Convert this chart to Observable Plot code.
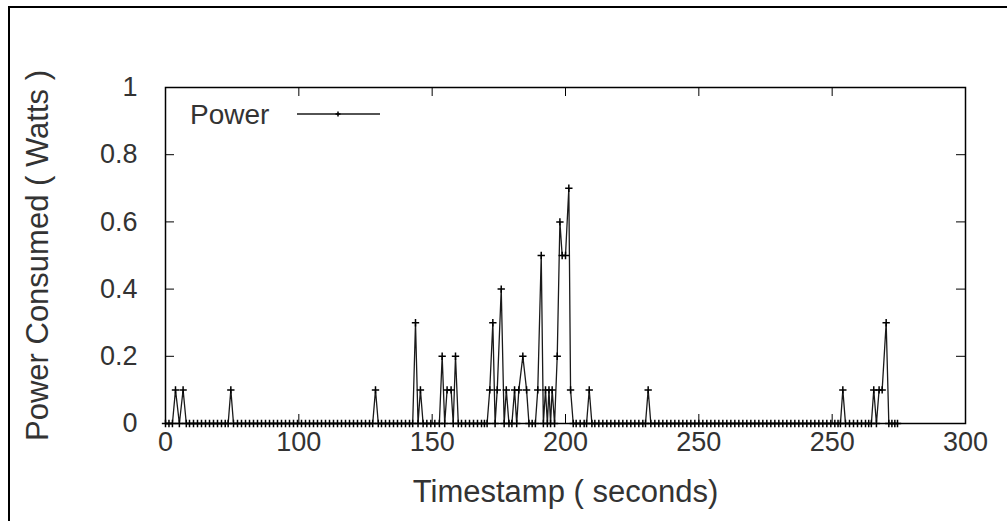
<!DOCTYPE html>
<html><head><meta charset="utf-8">
<script src="https://cdn.jsdelivr.net/npm/d3@7"></script>
<script src="https://cdn.jsdelivr.net/npm/@observablehq/plot@0.6"></script>
<style>
html,body{margin:0;padding:0;background:#fff;}
#wrap{position:relative;width:1007px;height:521px;overflow:hidden;background:#fff;}
#border{position:absolute;left:8px;top:6px;width:1200px;height:700px;border-left:2px solid #000;border-top:2px solid #000;pointer-events:none;}
</style></head><body>
<div id="wrap"><div id="chart"></div><div id="border"></div></div>
<script>
// ---- data ----
const timestamps = [
  0, 1.3, 2.6, 3.75, 5.2, 6.6, 7.8,
  9, 10.5, 12, 13.5, 15, 16.5, 18, 19.5, 21, 22.4, 23.5, 24.5, 25.5,
  27, 28.5, 30, 31.5, 33, 34.5, 36, 37.5, 39, 40.5, 42, 43.5, 45, 46.5, 48, 49.5, 51,
  52.5, 54, 55.5, 57, 58.5, 60, 61.5, 63, 64.5, 66, 67.5, 69, 70.5, 72, 73.5, 75, 76.5,
  77.7, 78.75, 79.8, 81, 82.5, 84, 85.5, 87, 88.5, 90, 91.5, 92.7, 93.75, 94.7, 95.6, 96.6,
  98, 99.5, 101, 102.7, 103.75, 104.7, 105.6, 107.1, 107.9, 108.75, 109.8,
  111, 112.5, 114, 115.5, 117, 118.5, 119.6, 120.6, 121.6, 122.75, 123.6, 124.4, 125.9, 127, 127.8, 128.8,
  129.9, 130.9, 131.7, 132.5, 134, 135.4, 136.3, 137.5, 138.7, 139.6, 140.9, 141.7, 142.5, 143.2, 143.8, 144.4,
  145, 145.9, 146.9, 147.9, 148.75, 150, 151.25, 151.9, 152.9, 154, 155.5, 157, 157.9, 158.9, 159.9,
  161, 162.5, 164, 165.5, 167, 168.5, 170, 171.5, 173, 174.5, 176, 177.5, 179, 180, 181, 182,
  183.5, 185, 186.5, 188, 189.5, 191, 192.5, 194, 195.5, 197, 198.5, 200, 201.5, 203, 204.5, 206,
  207.5, 209, 210.5, 212, 213.5, 215, 216.5, 218, 219.5, 221, 222.5, 224, 225.5, 227, 228.5, 230,
  231.5, 233, 234.5, 236, 237.5, 239, 240.5, 242, 243.5, 245, 246.5, 248, 249.5, 251, 252.2, 253.1,
  254, 255, 256.5, 258, 259.5, 261, 262.5, 263.7, 264.7, 265.6, 266.6, 267.6, 268.75, 270.25, 271.25, 272.4,
  273.5, 274.5
];
const watts = [
  0, 0, 0, 0.1, 0, 0.1, 0,
  0, 0, 0, 0, 0, 0, 0, 0, 0, 0, 0, 0.1, 0,
  0, 0, 0, 0, 0, 0, 0, 0, 0, 0, 0, 0, 0, 0, 0, 0, 0,
  0, 0, 0, 0, 0, 0, 0, 0, 0, 0, 0, 0, 0, 0, 0, 0, 0,
  0, 0.1, 0, 0, 0, 0, 0, 0, 0, 0, 0, 0, 0.3, 0, 0.1, 0,
  0, 0, 0, 0, 0.2, 0, 0.1, 0.1, 0, 0.2, 0,
  0, 0, 0, 0, 0, 0, 0, 0, 0.1, 0.3, 0, 0.1, 0.4, 0, 0.1, 0,
  0, 0.1, 0, 0.1, 0.2, 0.1, 0, 0, 0, 0.1, 0.5, 0, 0.1, 0, 0.1, 0,
  0.1, 0, 0.2, 0.6, 0.5, 0.5, 0.7, 0.1, 0, 0, 0, 0, 0, 0.1, 0,
  0, 0, 0, 0, 0, 0, 0, 0, 0, 0, 0, 0, 0, 0, 0.1, 0,
  0, 0, 0, 0, 0, 0, 0, 0, 0, 0, 0, 0, 0, 0, 0, 0,
  0, 0, 0, 0, 0, 0, 0, 0, 0, 0, 0, 0, 0, 0, 0, 0,
  0, 0, 0, 0, 0, 0, 0, 0, 0, 0, 0, 0, 0, 0, 0, 0,
  0.1, 0, 0, 0, 0, 0, 0, 0, 0, 0.1, 0, 0.1, 0.1, 0.3, 0, 0,
  0, 0
];
const xTicks = [0, 50, 100, 150, 200, 250, 300];
const xTickLabels = ["0", "100", "150", "200", "250", "250", "300"];
const yTicks = [0, 0.2, 0.4, 0.6, 0.8, 1];
const yTickLabels = ["0", "0.2", "0.4", "0.6", "0.8", "1"];
const seriesName = "Power";
const xTitle = "Timestamp ( seconds)";
const yTitle = "Power Consumed ( Watts )";

const data = timestamps.map((t, i) => ({t, w: watts[i]}));

const W = 1007, H = 521, mL = 165, mR = 42, mT = 87, mB = 98;
const fw = W - mL - mR, fh = H - mT - mB;
const TL = 9;
const TEXT = "#333";

const legend = (index, scales, values, dims) => {
  const g = d3.create("svg:g");
  const x0 = dims.marginLeft + 25, y0 = dims.marginTop + 27;
  g.append("text").attr("x", x0).attr("y", y0).attr("dy", "0.35em")
    .attr("text-anchor", "start")
    .attr("fill", TEXT).attr("font-size", 28).text(seriesName);
  g.append("line").attr("x1", x0 + 107).attr("x2", x0 + 190)
    .attr("y1", y0).attr("y2", y0).attr("stroke", "#1a1a1a").attr("stroke-width", 1.4);
  const cx = x0 + 148;
  g.append("path").attr("d", `M${cx-2.5},${y0}H${cx+2.5}M${cx},${y0-2.5}V${y0+2.5}`)
    .attr("stroke", "#000").attr("stroke-width", 1.5);
  return g.node();
};

const chart = Plot.plot({
  width: W, height: H,
  marginLeft: mL, marginRight: mR, marginTop: mT, marginBottom: mB,
  style: {fontFamily: "'Liberation Sans', Arial, sans-serif", fontSize: "27px", color: TEXT, background: "white"},
  x: {domain: [0, 300]},
  y: {domain: [0, 1]},
  marks: [
    Plot.tickX(xTicks, {x: d => d, insetTop: fh - TL, stroke: "#000"}),
    Plot.tickX(xTicks, {x: d => d, insetBottom: fh - TL, stroke: "#000"}),
    Plot.tickY(yTicks, {y: d => d, insetRight: fw - TL, stroke: "#000"}),
    Plot.tickY(yTicks, {y: d => d, insetLeft: fw - TL, stroke: "#000"}),
    Plot.axisX({ticks: xTicks, tickFormat: d => xTickLabels[xTicks.indexOf(d)], tickSize: 0, tickPadding: 8, label: null}),
    Plot.axisY({ticks: yTicks, tickFormat: d => yTickLabels[yTicks.indexOf(d)], tickSize: 0, tickPadding: 28, label: null}),
    Plot.text([xTitle], {text: d => d, frameAnchor: "bottom", dy: 78, fontSize: 31, fill: TEXT}),
    Plot.text([yTitle], {text: d => d, frameAnchor: "left", textAnchor: "middle", dx: -127, rotate: -90, fontSize: 31, fill: TEXT}),
    Plot.line(data, {x: "t", y: "w", stroke: "#1a1a1a", strokeWidth: 1.3}),
    Plot.dot(data, {x: "t", y: "w", symbol: "plus", r: 2.5, stroke: "#000", strokeWidth: 1.5}),
    Plot.frame({stroke: "#000", strokeWidth: 1.5}),
    legend
  ]
});
document.getElementById("chart").appendChild(chart);
</script></body></html>
